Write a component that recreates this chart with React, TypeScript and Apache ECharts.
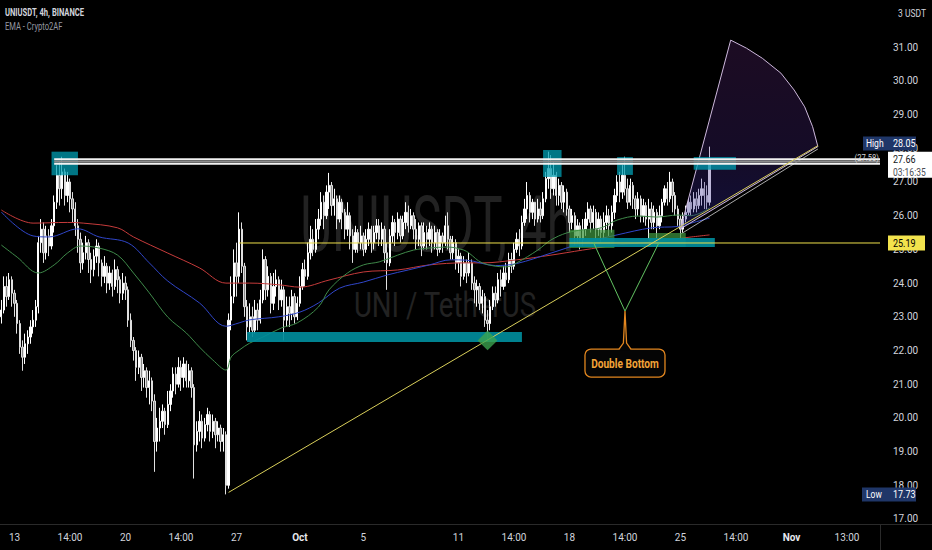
import React, { useEffect, useRef } from 'react';
import * as echarts from 'echarts';

const FONT = 'Roboto, "Noto Sans", "DejaVu Sans", sans-serif';

// ---------- axis ----------
const CATEGORY_COUNT = 333;
const tickIndices = [5, 26, 47, 68, 89, 113, 137, 173, 194, 215, 236, 257, 278, 299, 320];
const tickLabels = ['13', '14:00', '20', '14:00', '27', 'Oct', '5', '11', '14:00', '18', '14:00', '25', '14:00', 'Nov', '13:00'];
const boldTicks = ['Oct', 'Nov'];
const yMin = 16.8516;
const yMax = 32.4006;

// ---------- candles (4h, open = previous close) ----------
const firstOpen = 23.0;
const closes = [
  23.2, 23.9, 23.6, 24.1, 23.7, 23.4, 22.8, 22.1, 21.8, 22.2,
  22.4, 22.7, 22.9, 23.3, 25.2, 25.6, 24.9, 25.4, 25.1, 25.7,
  26.4, 27.2, 26.8, 27.3, 26.6, 27.0, 26.5, 26.2, 25.7, 25.3,
  24.6, 24.9, 25.2, 24.7, 24.4, 24.8, 25.1, 24.6, 24.2, 24.5,
  24.0, 24.3, 23.9, 24.4, 24.1, 23.7, 24.0, 23.8, 22.9, 22.3,
  22.0, 21.5, 21.8, 21.2, 21.4, 20.9, 21.1, 20.5, 19.3, 19.7,
  19.9, 20.2, 19.8, 20.4, 20.8, 21.3, 21.0, 21.5, 21.2, 21.6,
  21.1, 21.4, 20.9, 19.2, 19.6, 19.9, 19.4, 19.8, 20.1, 19.6,
  19.9, 19.5, 19.7, 19.3, 19.5, 18.0, 22.9, 23.6, 24.6, 24.2,
  25.6, 24.5, 23.3, 22.7, 23.0, 22.6, 23.2, 22.9, 23.5, 24.7,
  23.8, 24.2, 23.4, 23.9, 24.1, 23.5, 23.8, 22.9, 23.3, 23.1,
  23.6, 23.0, 23.4, 23.9, 24.4, 24.2, 24.9, 25.3, 25.0, 25.6,
  25.9, 26.4, 26.0, 26.7, 26.9, 26.3, 26.5, 25.9, 26.4, 26.1,
  25.6, 26.0, 25.4, 25.0, 25.5, 25.2, 25.4, 25.0, 25.3, 25.6,
  25.2, 25.5, 25.7, 25.3, 25.6, 24.9, 24.6, 25.4, 25.8, 25.5,
  25.9, 25.4, 25.8, 26.1, 25.7, 26.0, 25.6, 25.3, 25.7, 25.1,
  25.5, 25.3, 25.6, 25.2, 25.5, 25.0, 25.4, 25.2, 25.7, 25.3,
  24.9, 25.2, 24.6, 24.8, 24.2, 24.6, 24.3, 24.6, 24.0, 23.8,
  23.9, 23.4, 23.6, 22.9, 22.8, 23.3, 23.7, 23.5, 24.1, 23.9,
  24.3, 24.1, 24.7, 24.5, 25.0, 25.3, 25.1, 25.8, 26.2, 26.6,
  26.1, 26.4, 25.9, 26.2, 26.0, 26.5, 27.1, 27.4, 26.8, 27.2,
  26.6, 26.9, 26.4, 26.7, 26.2, 25.8, 26.0, 25.4, 25.7, 25.3,
  25.6, 25.9, 26.2, 25.8, 26.1, 25.6, 25.9, 25.5, 25.8, 26.0,
  25.7, 26.1, 26.6, 27.0, 26.7, 27.2, 26.8, 26.4, 26.9, 26.5,
  26.2, 26.5, 26.0, 26.3, 25.9, 26.2, 25.8, 26.1, 25.7, 26.0,
  26.4, 26.8, 26.5, 27.0, 26.6, 26.2, 25.9, 25.6, 25.9, 26.1,
  26.4, 26.2, 26.5, 26.3, 26.6, 26.8, 26.6, 26.4, 27.66,
];
const highs = [
  23.5, 24.2, 24.2, 24.3, 24.2, 23.8, 23.5, 22.9, 22.3, 22.5,
  22.6, 22.9, 23.2, 23.5, 25.4, 25.9, 25.8, 25.7, 25.6, 25.9,
  26.6, 27.5, 27.6, 27.75, 27.4, 27.3, 27.1, 26.7, 26.4, 25.9,
  25.5, 25.2, 25.4, 25.3, 24.9, 25.0, 25.3, 25.2, 24.7, 24.8,
  24.6, 24.5, 24.4, 24.7, 24.5, 24.2, 24.3, 24.2, 23.9, 23.1,
  22.4, 22.1, 22.0, 21.9, 21.6, 21.5, 21.4, 21.2, 20.7, 20.0,
  20.3, 20.4, 20.3, 20.8, 21.0, 21.5, 21.5, 21.8, 21.7, 21.8,
  21.7, 21.6, 21.5, 21.0, 19.9, 20.2, 20.1, 20.0, 20.3, 20.2,
  20.1, 20.0, 19.9, 19.8, 19.7, 19.6, 23.1, 24.2, 25.0, 25.2,
  26.1, 25.8, 24.6, 23.5, 23.4, 23.3, 23.5, 23.4, 23.8, 25.0,
  24.8, 24.5, 24.3, 24.3, 24.4, 24.2, 24.1, 23.9, 23.6, 23.6,
  23.8, 23.7, 23.6, 24.2, 24.6, 24.7, 25.2, 25.7, 25.6, 25.9,
  26.2, 26.7, 26.6, 26.9, 27.27, 27.0, 26.8, 26.6, 26.6, 26.5,
  26.2, 26.4, 26.1, 25.6, 25.7, 25.6, 25.7, 25.5, 25.6, 25.8,
  25.7, 25.7, 25.9, 25.9, 25.8, 25.7, 25.2, 25.6, 26.0, 25.9,
  26.1, 26.0, 26.0, 26.4, 26.3, 26.2, 26.1, 25.9, 25.8, 25.8,
  25.8, 25.7, 25.8, 25.7, 25.7, 25.6, 25.6, 25.5, 26.0, 26.1,
  25.4, 25.4, 25.3, 25.0, 24.9, 24.8, 24.7, 24.9, 24.7, 24.2,
  24.1, 24.0, 23.8, 23.7, 23.2, 23.5, 23.9, 23.9, 24.3, 24.4,
  24.5, 24.6, 24.9, 24.9, 25.2, 25.5, 25.6, 26.0, 26.5, 27.0,
  26.7, 26.5, 26.4, 26.5, 26.4, 26.7, 27.3, 27.9, 27.8, 27.6,
  27.3, 27.1, 27.0, 26.9, 26.8, 26.3, 26.2, 26.1, 25.9, 25.8,
  25.9, 26.1, 26.4, 26.3, 26.3, 26.2, 26.1, 26.0, 26.1, 26.3,
  26.2, 26.3, 26.8, 27.2, 27.3, 27.5, 27.75, 27.1, 27.1, 27.0,
  26.6, 26.7, 26.6, 26.5, 26.4, 26.5, 26.4, 26.3, 26.2, 26.3,
  26.5, 26.9, 27.0, 27.3, 27.1, 26.7, 26.3, 26.0, 26.1, 26.3,
  26.5, 26.6, 26.7, 26.7, 26.8, 27.1, 27.0, 26.9, 28.05,
];
const lows = [
  22.8, 23.1, 23.3, 23.5, 23.3, 23.0, 22.5, 21.9, 21.4, 21.6,
  21.9, 22.2, 22.5, 22.7, 23.1, 24.9, 24.6, 24.7, 24.8, 25.0,
  25.5, 26.2, 26.3, 26.5, 26.3, 26.4, 26.1, 25.8, 25.4, 24.9,
  24.3, 24.4, 24.7, 24.3, 24.0, 24.2, 24.6, 24.2, 23.9, 24.0,
  23.7, 23.8, 23.6, 23.8, 23.7, 23.4, 23.5, 23.5, 22.7, 22.1,
  21.7, 21.1, 21.3, 20.8, 20.9, 20.6, 20.4, 20.2, 18.4, 19.0,
  19.3, 19.7, 19.5, 19.7, 20.2, 20.6, 20.7, 20.9, 20.8, 20.9,
  20.9, 20.9, 20.6, 18.2, 19.0, 19.3, 19.1, 19.3, 19.6, 19.3,
  19.4, 19.1, 19.3, 19.0, 19.0, 17.73, 17.9, 22.6, 23.4, 23.6,
  24.0, 24.3, 23.0, 22.3, 22.5, 22.4, 22.5, 22.6, 22.8, 23.4,
  23.5, 23.6, 23.1, 23.2, 23.6, 23.2, 23.3, 22.3, 22.7, 22.7,
  22.9, 22.8, 22.9, 23.3, 23.8, 23.9, 24.1, 24.7, 24.8, 24.9,
  25.3, 25.7, 25.6, 25.9, 26.2, 26.0, 26.0, 25.6, 25.8, 25.6,
  25.3, 25.4, 25.0, 24.6, 24.9, 24.9, 25.0, 24.8, 24.9, 25.1,
  24.9, 25.0, 25.3, 25.1, 25.1, 24.6, 23.8, 24.5, 25.2, 25.1,
  25.3, 25.2, 25.3, 25.6, 25.5, 25.6, 25.3, 25.0, 25.1, 24.8,
  25.0, 25.0, 25.1, 24.9, 25.0, 24.8, 24.9, 24.9, 25.1, 25.0,
  24.7, 24.7, 24.4, 24.3, 23.9, 24.1, 24.0, 24.2, 23.8, 23.4,
  23.3, 23.2, 23.1, 22.7, 22.3, 22.6, 23.2, 23.3, 23.4, 23.6,
  23.8, 23.9, 24.0, 24.3, 24.4, 24.9, 24.8, 25.0, 25.7, 25.9,
  25.8, 25.9, 25.7, 25.8, 25.8, 25.9, 26.4, 26.8, 26.5, 26.6,
  26.3, 26.3, 26.2, 26.1, 26.0, 25.5, 25.6, 25.1, 25.2, 25.0,
  25.1, 25.4, 25.7, 25.5, 25.6, 25.3, 25.4, 25.2, 25.3, 25.6,
  25.4, 25.5, 25.9, 26.4, 26.4, 26.5, 26.6, 26.2, 26.3, 26.2,
  25.9, 26.0, 25.8, 25.8, 25.7, 25.3, 25.6, 25.6, 25.2, 25.6,
  25.8, 26.3, 26.3, 26.4, 26.1, 26.0, 25.7, 25.3, 25.5, 25.8,
  26.0, 26.0, 26.1, 26.1, 26.2, 26.3, 26.2, 26.2, 26.3,
];

// ---------- EMA lines: [candle index, price] ----------
const emaRed = [
  [0, 26.17], [12, 25.78], [25, 25.8], [31, 25.78], [44, 25.64], [50, 25.37], [63, 24.89],
  [75, 24.45], [85, 24.0], [94, 24.0], [105, 23.95], [113, 23.88], [124, 24.09], [137, 24.33],
  [150, 24.39], [162, 24.54], [175, 24.6], [182, 24.6], [195, 24.69], [208, 24.83], [220, 24.98],
  [233, 25.13], [246, 25.22], [258, 25.34], [268, 25.43],
];
const emaBlue = [
  [0, 26.11], [12, 25.4], [18, 25.37], [29, 25.61], [37, 25.37], [48, 25.19], [56, 24.6],
  [63, 24.06], [75, 23.41], [85, 22.72], [90, 22.82], [94, 22.91], [105, 23.0], [113, 23.14],
  [120, 23.41], [128, 23.85], [137, 24.03], [146, 24.24], [154, 24.39], [162, 24.54], [170, 24.69],
  [176, 24.68], [187, 24.52], [195, 24.58], [208, 24.89], [220, 25.19], [233, 25.43], [246, 25.64],
  [256, 25.68], [261, 25.78], [268, 25.93],
];
const emaGreen = [
  [0, 25.13], [6, 24.77], [14, 24.3], [20, 24.54], [25, 24.89], [30, 25.1], [37, 25.04],
  [44, 24.83], [50, 24.3], [56, 23.71], [63, 22.99], [70, 22.52], [75, 22.1], [80, 21.72],
  [85, 21.42], [87, 21.81], [90, 22.01], [94, 22.22], [99, 22.4], [106, 22.67], [112, 22.82],
  [120, 23.29], [124, 23.8], [131, 24.3], [137, 24.54], [143, 24.63], [150, 24.83], [156, 24.98],
  [162, 25.04], [169, 25.07], [175, 24.98], [177, 24.89], [182, 24.6], [191, 24.48], [195, 24.6],
  [203, 24.98], [208, 25.28], [214, 25.49], [220, 25.58], [227, 25.64], [233, 25.87], [241, 25.99],
  [248, 25.96], [256, 26.02], [261, 26.0], [268, 26.23],
];

// ---------- drawings (candle index, price) ----------
const resistanceStart = 20.3;
const resistanceWhite = [27.68, 27.54];
const resistanceGray = 27.61;
const tealBoxes = [[19.2, 29.0, 27.9, 27.2], [204.7, 212.0, 27.95, 27.15], [233.1, 239.2, 27.74, 27.21], [262.0, 277.5, 27.74, 27.36]];
const tealBands = [[93.0, 197.2, 22.55, 22.25], [214.6, 270.2, 25.34, 25.07]];
const greenBoxes = [[215.0, 232.0, 25.58, 25.04], [244.5, 259.3, 25.49, 25.07]];
const diamondPoint = [184.4, 22.3];
const supportLevel = 25.19;
const supportStart = 90.4;
const trendLine = [[86, 17.79], [308.5, 28.08]];
const fanApex = [257.2, 25.61];
const fanArc = [[275.7, 31.21], [282.1, 30.97], [288.3, 30.67], [294.7, 30.23], [299.7, 29.73], [303.5, 29.23], [306.7, 28.64], [308.5, 28.05]];
const fanInnerLine = [[257.2, 25.45], [308.5, 27.98]];
const doubleBottomV = [[223.5, 25.22], [236.0, 23.17], [248.5, 25.22]];
const calloutText = 'Double Bottom';
const highValue = 28.05;
const lowValue = 17.73;
const lastValue = 27.66;
const lineTagValue = 27.58;
const countdown = '03:16:35';

const candleData = closes.map((c, i) => {
  const o = i === 0 ? firstOpen : closes[i - 1];
  return [o, c, Math.min(lows[i], o, c), Math.max(highs[i], o, c)];
});

const renderAnnotations = (params: any, api: any) => {
  const pt = (i: number, p: number) => api.coord([i, p]) as number[];
  const cs = params.coordSys;
  const right = cs.x + cs.width;
  const ch: any[] = [];
  const box = (b: number[], fill: string) => {
    const a = pt(b[0], b[2]);
    const z = pt(b[1], b[3]);
    ch.push({ type: 'rect', shape: { x: a[0], y: a[1], width: z[0] - a[0], height: z[1] - a[1] }, style: { fill } });
  };
  const seg = (p1: number[], p2: number[], stroke: string, lineWidth: number) =>
    ch.push({ type: 'line', shape: { x1: p1[0], y1: p1[1], x2: p2[0], y2: p2[1] }, style: { stroke, lineWidth } });
  const txt = (x: number, y: number, text: string, fill: string, size: number, weight: string, align: string, sx = 1) =>
    ch.push({
      type: 'text', x, y, scaleX: sx,
      style: { text, fill, fontSize: size, fontFamily: FONT, fontWeight: weight, align, textAlign: align, verticalAlign: 'middle', textVerticalAlign: 'middle' },
    });

  // fan
  const fan = [pt(fanApex[0], fanApex[1]), ...fanArc.map((q) => pt(q[0], q[1]))];
  ch.push({
    type: 'polygon', shape: { points: fan },
    style: {
      fill: new echarts.graphic.LinearGradient(0, 0, 0, 1, [
        { offset: 0, color: 'rgba(95,40,115,0.3)' },
        { offset: 0.6, color: 'rgba(70,40,130,0.3)' },
        { offset: 1, color: 'rgba(40,40,150,0.38)' },
      ]),
      stroke: '#cdb8dc', lineWidth: 1,
    },
  });
  seg(pt(fanInnerLine[0][0], fanInnerLine[0][1]), pt(fanInnerLine[1][0], fanInnerLine[1][1]), 'rgba(225,225,225,0.75)', 1);

  // boxes
  greenBoxes.forEach((b) => box(b, 'rgba(62,150,62,0.72)'));
  tealBands.forEach((b) => box(b, 'rgba(0,140,155,0.92)'));
  tealBoxes.forEach((b) => box(b, 'rgba(0,158,178,0.75)'));

  // resistance band
  const g = pt(resistanceStart, resistanceGray);
  seg(g, [right, g[1]], '#8c8c8c', 2.6);
  resistanceWhite.forEach((lv) => {
    const a = pt(resistanceStart, lv);
    seg(a, [right, a[1]], '#f2f2f2', 1.8);
  });

  // support + trend
  const s = pt(supportStart, supportLevel);
  seg(s, [right, s[1]], '#efe04a', 1);
  seg(pt(trendLine[0][0], trendLine[0][1]), pt(trendLine[1][0], trendLine[1][1]), '#d9cf5a', 1);

  // diamond
  const d = pt(diamondPoint[0], diamondPoint[1]);
  ch.push({ type: 'rect', x: d[0], y: d[1], rotation: Math.PI / 4, shape: { x: -7, y: -7, width: 14, height: 14 }, style: { fill: 'rgba(60,165,80,0.78)' } });

  // double bottom V + callout
  const v = doubleBottomV.map((q) => pt(q[0], q[1]));
  ch.push({ type: 'polyline', shape: { points: v }, style: { stroke: '#63c463', lineWidth: 1, fill: null } });
  const tip = v[1];
  const bx = tip[0] - 40;
  const by = tip[1] + 38;
  ch.push({ type: 'rect', shape: { x: bx, y: by, width: 80, height: 28, r: 6 }, style: { fill: '#050505', stroke: '#e2861f', lineWidth: 1.3 } });
  ch.push({
    type: 'polygon',
    shape: { points: [[tip[0] - 6, by + 1.5], [tip[0] - 1.6, by - 6], [tip[0], tip[1]], [tip[0] + 1.6, by - 6], [tip[0] + 6, by + 1.5]] },
    style: { fill: '#050505' },
  });
  ch.push({ type: 'polyline', shape: { points: [[tip[0] - 6, by], [tip[0] - 1.6, by - 6], [tip[0], tip[1]], [tip[0] + 1.6, by - 6], [tip[0] + 6, by]] }, style: { stroke: '#e2861f', lineWidth: 1.3, fill: null } });
  txt(tip[0], by + 14, calloutText, '#f3a338', 13, 'bold', 'center', 0.78);

  // price scale tags
  const yHigh = pt(0, highValue)[1] - 3;
  ch.push({ type: 'rect', shape: { x: 863, y: yHigh - 7, width: 53, height: 14 }, style: { fill: '#1f3668' } });
  txt(866, yHigh, 'High', '#ffffff', 10, 'normal', 'left', 0.85);
  txt(893, yHigh, highValue.toFixed(2), '#ffffff', 10, 'normal', 'left', 0.9);

  const yTag = pt(0, lineTagValue)[1] - 5;
  txt(879, yTag, '(' + lineTagValue.toFixed(2) + ')', '#d5d5d5', 9, 'normal', 'right', 0.85);

  const yLast = pt(0, lastValue)[1];
  ch.push({ type: 'rect', shape: { x: 888, y: yLast - 8, width: 44, height: 26 }, style: { fill: '#ffffff' } });
  txt(893, yLast, lastValue.toFixed(2), '#131722', 10, 'normal', 'left', 0.9);
  txt(893, yLast + 12, countdown, '#4a4d55', 10, 'normal', 'left', 0.85);

  const ySup = pt(0, supportLevel)[1];
  ch.push({ type: 'rect', shape: { x: 888, y: ySup - 7.5, width: 37, height: 15 }, style: { fill: '#f2e34d' } });
  txt(893, ySup, supportLevel.toFixed(2), '#000000', 10, 'normal', 'left', 0.9);

  const yLow = pt(0, lowValue)[1];
  ch.push({ type: 'rect', shape: { x: 862, y: yLow - 7, width: 54, height: 14 }, style: { fill: '#1f3668' } });
  txt(866, yLow, 'Low', '#ffffff', 10, 'normal', 'left', 0.85);
  txt(893, yLow, lowValue.toFixed(2), '#ffffff', 10, 'normal', 'left', 0.9);

  return { type: 'group', children: ch };
};

export default function App() {
  const ref = useRef<HTMLDivElement>(null);
  useEffect(() => {
    if (!ref.current) return;
    const chart = echarts.init(ref.current, null, { renderer: 'svg' });
    const tickMap = new Map<number, string>();
    tickIndices.forEach((idx, k) => tickMap.set(idx, tickLabels[k]));
    const emaSeries = (data: number[][], color: string) => ({
      type: 'line', data, smooth: 0.35, symbol: 'none', silent: true, z: 3,
      lineStyle: { color, width: 1 },
    });
    chart.setOption({
      animation: false,
      backgroundColor: '#000000',
      grid: { left: 0, right: 52, top: 0, bottom: 26 },
      xAxis: {
        type: 'category',
        data: Array.from({ length: CATEGORY_COUNT }, (_, i) => String(i)),
        boundaryGap: true,
        axisLine: { show: false },
        axisTick: { show: false },
        splitLine: { show: false },
        axisLabel: {
          interval: (i: number) => tickMap.has(i),
          formatter: (v: string) => {
            const l = tickMap.get(Number(v));
            if (!l) return '';
            return boldTicks.includes(l) ? '{b|' + l + '}' : l;
          },
          color: '#d1d4dc', fontSize: 10, fontFamily: FONT, margin: 8,
          rich: { b: { fontWeight: 'bold', color: '#e6e8ee', fontSize: 10, fontFamily: FONT } },
        },
      },
      yAxis: {
        type: 'value', position: 'right', min: yMin, max: yMax, splitNumber: 15, scale: true,
        axisLine: { show: false }, axisTick: { show: false }, splitLine: { show: false },
        axisLabel: {
          color: '#d1d4dc', fontSize: 10, fontFamily: FONT, margin: 13,
          formatter: (v: number) => (v > 31.5 || v < 16.9 ? '' : v.toFixed(2)),
        },
      },
      graphic: [
        { type: 'text', x: 437, y: 225, scaleX: 0.63, z: -10, silent: true,
          style: { text: 'UNIUSDT, 4h', fill: '#222222', fontSize: 78, fontFamily: FONT, align: 'center', textAlign: 'center', verticalAlign: 'middle', textVerticalAlign: 'middle' } },
        { type: 'text', x: 445, y: 305, scaleX: 0.79, z: -10, silent: true,
          style: { text: 'UNI / TetherUS', fill: '#222222', fontSize: 35, fontFamily: FONT, align: 'center', textAlign: 'center', verticalAlign: 'middle', textVerticalAlign: 'middle' } },
        { type: 'text', x: 5, y: 13, scaleX: 0.76, z: 50,
          style: { text: 'UNIUSDT, 4h, BINANCE', fill: '#d1d4dc', fontSize: 10, fontWeight: 'bold', fontFamily: FONT, align: 'left', textAlign: 'left', verticalAlign: 'middle', textVerticalAlign: 'middle' } },
        { type: 'text', x: 5, y: 27, scaleX: 0.76, z: 50,
          style: { text: 'EMA - Crypto2AF', fill: '#9598a1', fontSize: 10, fontFamily: FONT, align: 'left', textAlign: 'left', verticalAlign: 'middle', textVerticalAlign: 'middle' } },
        { type: 'text', x: 926, y: 13, scaleX: 0.85, z: 50,
          style: { text: '3 USDT', fill: '#d1d4dc', fontSize: 10, fontFamily: FONT, align: 'right', textAlign: 'right', verticalAlign: 'middle', textVerticalAlign: 'middle' } },
        { type: 'line', z: 50, shape: { x1: 0, y1: 524.5, x2: 932, y2: 524.5 }, style: { stroke: '#2a2a2a', lineWidth: 1 } },
        { type: 'line', z: 50, shape: { x1: 880.5, y1: 524, x2: 880.5, y2: 550 }, style: { stroke: '#2a2a2a', lineWidth: 1 } },
      ],
      series: [
        {
          type: 'candlestick', data: candleData, barWidth: '70%', z: 2, silent: true,
          itemStyle: { color: '#ffffff', color0: '#8a8a8a', borderColor: '#ffffff', borderColor0: '#e0e0e0', borderWidth: 1 },
        },
        emaSeries(emaRed, '#c63b3b'),
        emaSeries(emaBlue, '#3046c9'),
        emaSeries(emaGreen, '#3f8a4a'),
        {
          type: 'custom', renderItem: renderAnnotations, data: [[0, 20]], clip: false, silent: true, z: 5,
        },
      ],
    });
    return () => chart.dispose();
  }, []);
  return <div ref={ref} style={{ position: 'fixed', left: 0, top: 0, width: 932, height: 550, background: '#000' }} />;
}
